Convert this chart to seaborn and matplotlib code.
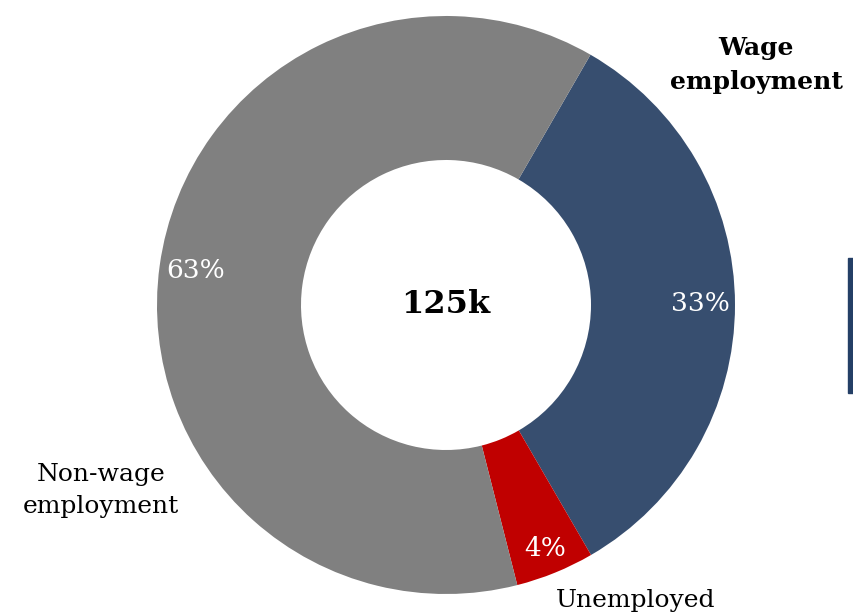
import matplotlib
matplotlib.use("Agg")
import matplotlib.pyplot as plt
import seaborn as sns
from matplotlib.patches import Rectangle

sns.set_theme(style="white")
plt.rcParams['font.family'] = ['DejaVu Serif']

categories = ["Wage employment", "Unemployed", "Non-wage employment"]
values = [33.3, 4.4, 62.3]
pct_labels = ["33%", "4%", "63%"]
colors = ["#374e6f", "#c00000", "#808080"]
total_label = "125k"

fig = plt.figure(figsize=(8.54, 6.16), dpi=100)
ax = fig.add_axes([0, 0, 1, 1])
ax.set_xlim(0, 854)
ax.set_ylim(0, 616)
ax.set_aspect('equal')
ax.axis('off')

cx, cy, R = 446, 311, 289
wedges, _ = ax.pie(values, colors=colors, startangle=60, counterclock=False,
                   radius=R, center=(cx, cy),
                   wedgeprops=dict(width=R - 145, linewidth=0))
ax.set_xlim(0, 854)
ax.set_ylim(0, 616)

# percentage labels
pct_style = dict(color="white", fontsize=19, ha="center", va="center")
ax.text(700, 312, pct_labels[0], **pct_style)
ax.text(545, 68, pct_labels[1], **pct_style)
ax.text(196, 345, pct_labels[2], **pct_style)

# category labels
ax.text(756, 551, "Wage\nemployment", fontsize=18, fontweight="bold", color="black",
        ha="center", va="center", linespacing=1.5)
ax.text(101, 126, "Non-wage\nemployment", fontsize=18, color="black",
        ha="center", va="center", linespacing=1.5)
ax.text(636, 15, "Unemployed", fontsize=18, color="black", ha="center", va="center")

ax.text(cx, cy, total_label, fontsize=23, fontweight="bold", color="black",
        ha="center", va="center")

ax.add_patch(Rectangle((848, 223), 8, 135, color="#243f66", clip_on=False))

fig.savefig("out.png", dpi=100)
